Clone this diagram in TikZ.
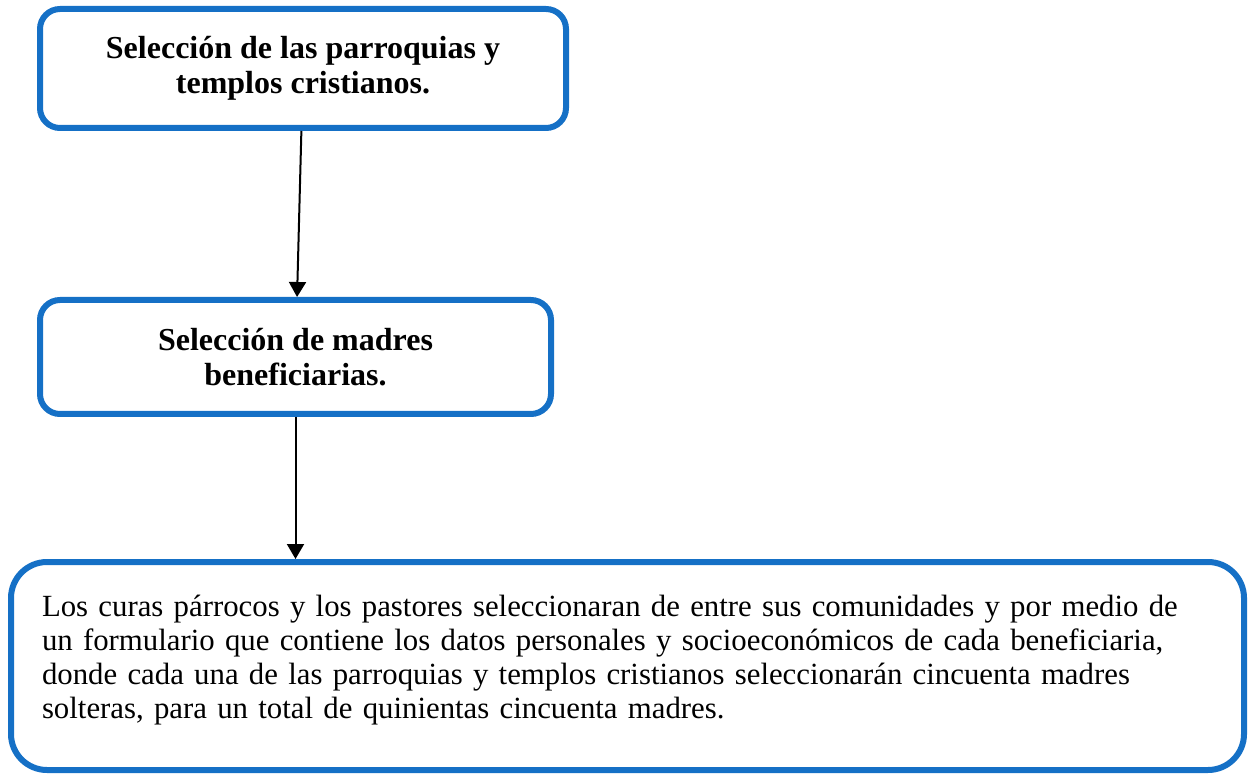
\documentclass[tikz,border=0pt]{standalone}
\usepackage{fontspec}
\setmainfont{Liberation Serif}
\usetikzlibrary{positioning,arrows.meta}
\definecolor{marco}{RGB}{21,112,198}

\begin{document}
\begin{tikzpicture}[x=0.5pt,y=-0.5pt,
    caja/.style={draw=marco, line width=3pt, rounded corners=10pt, align=center,
        font=\fontsize{16}{17.5}\selectfont\bfseries},
    flecha/.style={-{Triangle[length=7.5pt,width=8.5pt]}, line width=1pt}]
    \useasboundingbox (0,0) rectangle (1251,774);

    \node[caja, minimum width=263pt, minimum height=59.5pt] (parroquias) at (303,68.5)
        {Selección de las parroquias y\\templos cristianos.};
    \node[caja, minimum width=255.5pt, minimum height=57pt] (madres) at (295.5,357)
        {Selección de madres\\beneficiarias.};
    \node[caja, rounded corners=18pt, minimum width=616.5pt, minimum height=104pt] (detalle) at (627.5,666) {};
    \node[text width=585.5pt, inner sep=0pt, align=left, font=\fontsize{15.4}{17}\selectfont]
        (textodetalle) at (627.5,660)
        {Los curas párrocos y los pastores seleccionaran de entre sus comunidades y por medio de\\
         un formulario que contiene los datos personales y socioeconómicos de cada beneficiaria,\\
         donde cada una de las parroquias y templos cristianos seleccionarán cincuenta madres\\
         solteras, para un total de quinientas cincuenta madres.};

    \draw[flecha] (parroquias) -- (madres);
    \draw[flecha] (madres) -- (madres |- detalle.north);
\end{tikzpicture}
\end{document}
